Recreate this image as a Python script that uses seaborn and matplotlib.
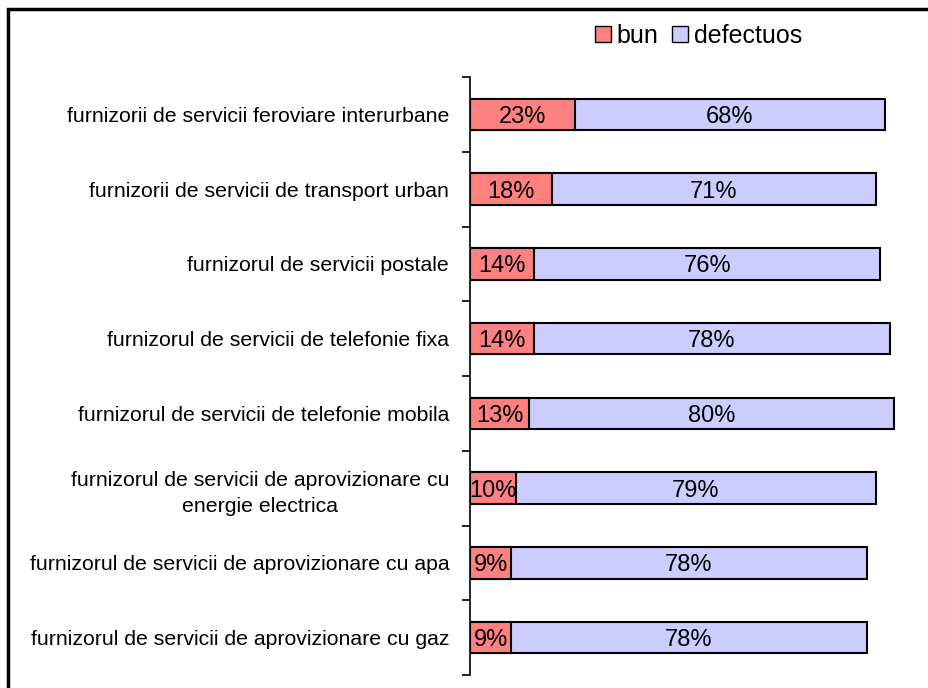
import pandas as pd
import numpy as np
import seaborn as sns
import matplotlib.pyplot as plt
from matplotlib.patches import Rectangle
from matplotlib.lines import Line2D

categories = [
    "furnizorii de servicii feroviare interurbane",
    "furnizorii de servicii de transport urban",
    "furnizorul de servicii postale",
    "furnizorul de servicii de telefonie fixa",
    "furnizorul de servicii de telefonie mobila",
    "furnizorul de servicii de aprovizionare cu\nenergie electrica",
    "furnizorul de servicii de aprovizionare cu apa",
    "furnizorul de servicii de aprovizionare cu gaz",
]
bun = [23, 18, 14, 14, 13, 10, 9, 9]
defectuos = [68, 71, 76, 78, 80, 79, 78, 78]

data = pd.DataFrame({"cat": categories, "bun": bun, "defectuos": defectuos})
data["total"] = data["bun"] + data["defectuos"]

sns.set_style("white")
plt.rcParams['font.family'] = ['Liberation Sans', 'DejaVu Sans']
plt.rcParams['text.color'] = 'black'
plt.rcParams['ytick.color'] = 'black'
plt.rcParams['ytick.labelcolor'] = 'black'

fig = plt.figure(figsize=(9.29, 6.88), dpi=100)
ax = fig.add_axes([470/929, 1-675/688, 456/929, 598/688])

red = "#FF8080"
lav = "#CCCCFF"

sns.barplot(data=data, y="cat", x="total", color=lav, edgecolor="black",
            linewidth=1.5, width=0.42, saturation=1, ax=ax)
sns.barplot(data=data, y="cat", x="bun", color=red, edgecolor="black",
            linewidth=1.5, width=0.42, saturation=1, ax=ax)

for i, (b, d) in enumerate(zip(bun, defectuos)):
    ax.text(b/2, i, f"{b}%", ha="center", va="center_baseline", fontsize=17)
    ax.text(b + d/2, i, f"{d}%", ha="center", va="center_baseline", fontsize=17)

ax.set_xlim(0, 100)
ax.set_ylim(len(categories) - 0.5, -0.5)
ax.set_xlabel("")
ax.set_ylabel("")
ax.set_xticks([])
ax.set_yticks(np.arange(-0.5, len(categories), 1), minor=False)
ax.set_yticklabels([])
ax.set_yticks(np.arange(len(categories)), minor=True)
ax.set_yticklabels(categories, minor=True, fontsize=15.3, ha="right",
                   multialignment="center", linespacing=1.45)
ax.tick_params(axis="y", which="major", direction="out", length=6, width=1.2,
               color="black", left=True)
ax.tick_params(axis="y", which="minor", length=0, pad=15)
for s in ["top", "right", "bottom"]:
    ax.spines[s].set_visible(False)
ax.spines["left"].set_color("black")
ax.spines["left"].set_linewidth(1.2)

handles = [
    Line2D([], [], marker="s", linestyle="", markersize=11,
           markerfacecolor=red, markeredgecolor="black", label="bun"),
    Line2D([], [], marker="s", linestyle="", markersize=11,
           markerfacecolor=lav, markeredgecolor="black", label="defectuos"),
]
fig.legend(handles=handles, loc="center", bbox_to_anchor=(697/929, 1-36/688),
           ncol=2, frameon=False, fontsize=18, handletextpad=0.1,
           columnspacing=0.4, handlelength=0.9, borderpad=0)

fig.patches.append(Rectangle((8/929, -0.1), 1.2, 1 - 9/688 + 0.1,
                             transform=fig.transFigure, fill=False,
                             edgecolor="black", linewidth=2.5))

plt.savefig("out.png", dpi=100)
